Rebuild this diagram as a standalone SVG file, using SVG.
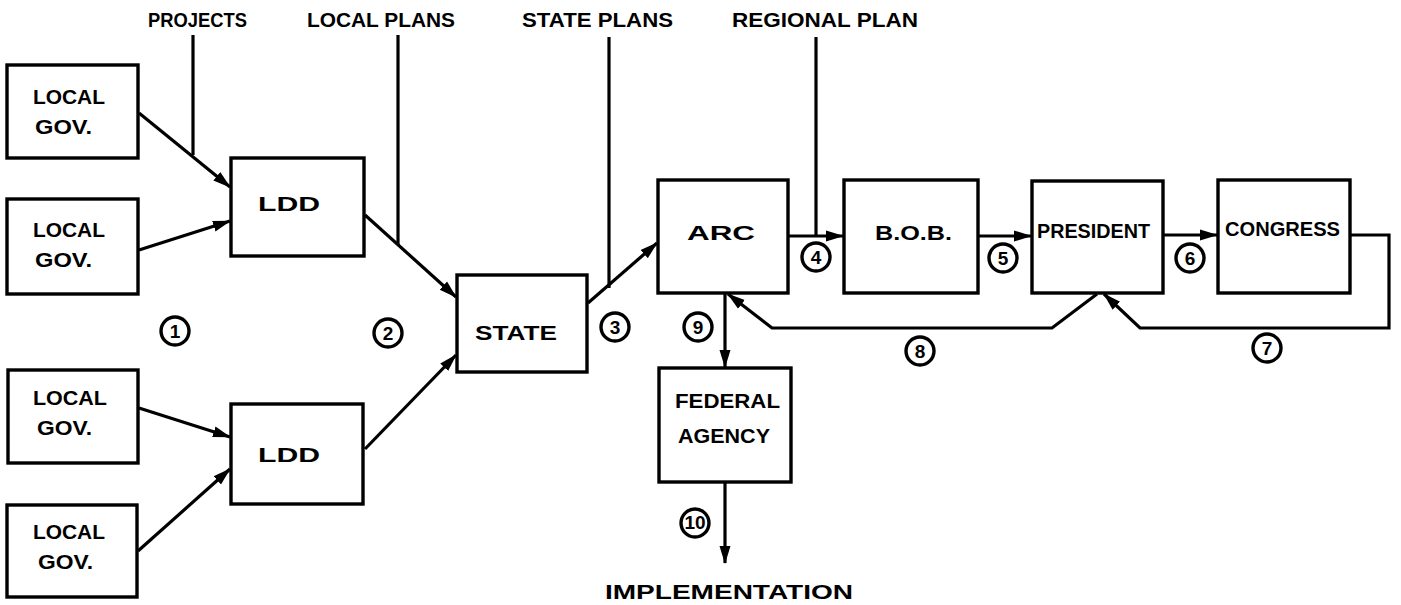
<svg xmlns="http://www.w3.org/2000/svg" width="1401" height="605" viewBox="0 0 1401 605">
<style>
.box{fill:#fff;stroke:#000;stroke-width:3.4}
.ln{fill:none;stroke:#000;stroke-width:3.2;stroke-linejoin:miter}
.t{font-family:"Liberation Sans",Arial,sans-serif;font-weight:bold;font-size:20px;fill:#000}
.c{fill:none;stroke:#000;stroke-width:3.4}
.n{font-family:"Liberation Sans",Arial,sans-serif;font-weight:bold;font-size:19px;fill:#000;text-anchor:middle}
</style>
<defs>
<marker id="ah" markerUnits="userSpaceOnUse" markerWidth="20" markerHeight="14" refX="17" refY="7" orient="auto">
<path d="M0,1.5 L18,7 L0,12.5 Z" fill="#000"/>
</marker>
</defs>

<g id="labels">
<text class="t" x="148" y="27" textLength="99" lengthAdjust="spacingAndGlyphs">PROJECTS</text>
<text class="t" x="307" y="27" textLength="148" lengthAdjust="spacingAndGlyphs">LOCAL PLANS</text>
<text class="t" x="522" y="27" textLength="151" lengthAdjust="spacingAndGlyphs">STATE PLANS</text>
<text class="t" x="732" y="27" textLength="186" lengthAdjust="spacingAndGlyphs">REGIONAL PLAN</text>
<text class="t" x="605" y="599" textLength="248" lengthAdjust="spacingAndGlyphs">IMPLEMENTATION</text>
</g>

<g id="connectors">
<line class="ln" x1="193" y1="35" x2="193" y2="155"/>
<line class="ln" x1="398" y1="35" x2="398" y2="245"/>
<line class="ln" x1="609" y1="37" x2="609" y2="288"/>
<line class="ln" x1="816" y1="37" x2="816" y2="236"/>
<line class="ln" x1="139" y1="113" x2="230" y2="187" marker-end="url(#ah)"/>
<line class="ln" x1="139" y1="250" x2="230" y2="221" marker-end="url(#ah)"/>
<line class="ln" x1="139" y1="408" x2="230" y2="437" marker-end="url(#ah)"/>
<line class="ln" x1="138" y1="551" x2="230" y2="469" marker-end="url(#ah)"/>
<line class="ln" x1="365" y1="215" x2="456" y2="297" marker-end="url(#ah)"/>
<line class="ln" x1="365" y1="449" x2="456" y2="355" marker-end="url(#ah)"/>
<line class="ln" x1="588" y1="303" x2="657" y2="243" marker-end="url(#ah)"/>
<line class="ln" x1="789" y1="236" x2="843" y2="236" marker-end="url(#ah)"/>
<line class="ln" x1="979" y1="236" x2="1031" y2="236" marker-end="url(#ah)"/>
<line class="ln" x1="1164" y1="235" x2="1217" y2="235" marker-end="url(#ah)"/>
<polyline class="ln" points="1351,235 1389,235 1389,328 1140,328 1104,294" marker-end="url(#ah)"/>
<polyline class="ln" points="1097,294 1052,328 772,328 728,294" marker-end="url(#ah)"/>
<line class="ln" x1="725" y1="294" x2="725" y2="367" marker-end="url(#ah)"/>
<line class="ln" x1="725" y1="483" x2="725" y2="563" marker-end="url(#ah)"/>
</g>

<g id="local-gov-1"><rect class="box" x="7" y="65" width="131" height="93"/><text class="t" x="33" y="104" textLength="72" lengthAdjust="spacingAndGlyphs">LOCAL</text><text class="t" x="35" y="134" textLength="57" lengthAdjust="spacingAndGlyphs">GOV.</text></g>
<g id="local-gov-2"><rect class="box" x="7" y="199" width="131" height="95"/><text class="t" x="33" y="237" textLength="72" lengthAdjust="spacingAndGlyphs">LOCAL</text><text class="t" x="35" y="267" textLength="57" lengthAdjust="spacingAndGlyphs">GOV.</text></g>
<g id="local-gov-3"><rect class="box" x="8" y="370" width="130" height="93"/><text class="t" x="33" y="405" textLength="74" lengthAdjust="spacingAndGlyphs">LOCAL</text><text class="t" x="37" y="435" textLength="55" lengthAdjust="spacingAndGlyphs">GOV.</text></g>
<g id="local-gov-4"><rect class="box" x="7" y="505" width="130" height="92"/><text class="t" x="33" y="539" textLength="72" lengthAdjust="spacingAndGlyphs">LOCAL</text><text class="t" x="38" y="569" textLength="55" lengthAdjust="spacingAndGlyphs">GOV.</text></g>
<g id="ldd-1"><rect class="box" x="231" y="158" width="133" height="98"/><text class="t" x="258" y="211" textLength="62" lengthAdjust="spacingAndGlyphs">LDD</text></g>
<g id="ldd-2"><rect class="box" x="231" y="404" width="132" height="100"/><text class="t" x="258" y="462" textLength="62" lengthAdjust="spacingAndGlyphs">LDD</text></g>
<g id="state"><rect class="box" x="457" y="275" width="130" height="97"/><text class="t" x="475" y="340" textLength="82" lengthAdjust="spacingAndGlyphs">STATE</text></g>
<g id="arc"><rect class="box" x="658" y="180" width="130" height="113"/><text class="t" x="687" y="240" textLength="68" lengthAdjust="spacingAndGlyphs">ARC</text></g>
<g id="bob"><rect class="box" x="844" y="180" width="134" height="113"/><text class="t" x="875" y="240" textLength="77" lengthAdjust="spacingAndGlyphs">B.O.B.</text></g>
<g id="president"><rect class="box" x="1032" y="181" width="131" height="112"/><text class="t" x="1037" y="238" textLength="113" lengthAdjust="spacingAndGlyphs">PRESIDENT</text></g>
<g id="congress"><rect class="box" x="1218" y="180" width="132" height="113"/><text class="t" x="1225" y="236" textLength="115" lengthAdjust="spacingAndGlyphs">CONGRESS</text></g>
<g id="federal-agency"><rect class="box" x="659" y="368" width="132" height="114"/><text class="t" x="675" y="408" textLength="105" lengthAdjust="spacingAndGlyphs">FEDERAL</text><text class="t" x="678" y="443" textLength="92" lengthAdjust="spacingAndGlyphs">AGENCY</text></g>

<g id="step-numbers">
<circle class="c" cx="175" cy="331" r="14"/><text class="n" x="175" y="338">1</text>
<circle class="c" cx="388" cy="333" r="14"/><text class="n" x="388" y="340">2</text>
<circle class="c" cx="615" cy="327" r="14"/><text class="n" x="615" y="334">3</text>
<circle class="c" cx="816" cy="257" r="14"/><text class="n" x="816" y="264">4</text>
<circle class="c" cx="1003" cy="258" r="14"/><text class="n" x="1003" y="265">5</text>
<circle class="c" cx="1190" cy="258" r="14"/><text class="n" x="1190" y="265">6</text>
<circle class="c" cx="1267" cy="348" r="14"/><text class="n" x="1267" y="355">7</text>
<circle class="c" cx="920" cy="351" r="14"/><text class="n" x="920" y="358">8</text>
<circle class="c" cx="698" cy="327" r="14"/><text class="n" x="698" y="334">9</text>
<circle class="c" cx="695" cy="523" r="14"/><text class="n" x="695" y="529" font-size="16">10</text>
</g>
</svg>
